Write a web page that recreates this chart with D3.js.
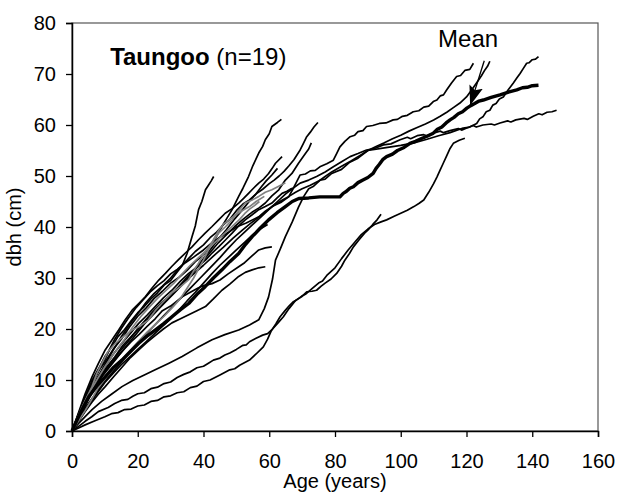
<!DOCTYPE html>
<html lang="en">
<head>
  <meta charset="UTF-8">
  <title>Taungoo dbh growth</title>
  <style>
    body { margin: 0; background: #fff; }
    text { font-family: "Liberation Sans", Arial, sans-serif; fill: #000; }
  </style>
</head>
<body>
  <svg id="svg" width="617" height="493"></svg>

  <script src="https://d3js.org/d3.v7.min.js"></script>
  <script>
    // axis ticks
    const xTicks = [0, 20, 40, 60, 80, 100, 120, 140, 160]
    const yTicks = [0, 10, 20, 30, 40, 50, 60, 70, 80]

    // individual trees: [age (years), dbh (cm)]
    const tree01 = [[0,0],[2,3.2],[4,6.5],[6,9.8],[8,12.1],[10,14.6],[12,16.4],[14,18.5],[16,19.9],[18,21.6],[20,23.2],[22,24.4],[24,25.9],[26,27.1],[28,28.6],[30,29.5],[32,31.2],[33.5,32.4],[35,34.8],[36.5,38.1],[37.5,40.2],[38.5,43.4],[39.5,45],[40.6,47.3],[41.5,48.2],[42.3,49],[43.1,49.9]]
    const tree02 = [[0,0],[2,3.4],[4,6.8],[6,9.5],[8,11.8],[10,13.5],[12.5,16],[15,18],[17.5,20.4],[20,22.5],[22.5,24.1],[25,26],[27.5,27.4],[30,29],[32.5,30.1],[35,31.5],[37.5,33.2],[40,34.5],[42.6,36.8],[44,38.2],[45.6,40.1],[47,41.6],[48.7,43.4],[50.7,46],[52,47.6],[53.7,49.9],[55,52],[56.8,54.5],[58,55.8],[58.8,57.1],[60,58.3],[60.8,59.7],[62.5,60.5],[63.7,61.1]]
    const tree03 = [[0,0],[2.5,3.6],[5,7],[7.5,10.2],[10,13],[12.5,15.8],[15,18.5],[17.5,20.9],[20,23],[22.5,25.2],[25,27],[27.5,28.4],[30,30],[32.5,31.9],[35,33.5],[37.5,35.2],[40,36.5],[42,37.9],[44,39],[46,40.4],[48,41.5],[50,43.2],[52,44.5],[54,45.3],[56,46.5],[58,47.4],[60,48.5],[61.5,49.2],[63,50],[64.5,50.9],[66,52],[67.5,53.2],[69.4,55.1],[70.4,56.4],[71.4,57.7],[72.5,58.6],[73.6,59.6],[74.8,60.5]]
    const tree04 = [[0,0],[2,2.8],[4,5.5],[6,7.9],[8,10],[10.5,12.5],[13,14.5],[15.5,16.8],[18,18.5],[21,20.6],[24,22.5],[27,24.6],[30,26.5],[33,28.4],[36,30.5],[39,32.8],[42,35],[44.5,36.9],[47,38.5],[49.5,40.1],[52,41.5],[55,43],[57,43.8],[58.8,44.7],[60.8,46.1],[62.9,47.3],[64.9,49.2],[66.9,50.5],[68.9,52.5],[71,54.4],[72,55.3],[72.8,56.5]]
    const tree05 = [[0,0],[3,4.6],[6.1,8.7],[7.5,11.2],[9.1,13.3],[11,15.6],[13.2,17.2],[15.8,18.6],[18.3,19.8],[20.8,20.6],[23.3,21.8],[25.3,23.6],[27.4,25.1],[30.4,27.1],[33,28.3],[35.5,29.7],[37,31.4],[38.5,32.9],[40,34.6],[41.6,36.1],[43.2,37.5],[44.6,38.8],[46.6,40],[48.7,41.4],[50.7,43.2],[52.7,44.7],[54.8,45.3],[56.8,46],[58.8,46.8],[60.8,47.3],[62.9,48],[64.9,48.7]]
    const tree06 = [[0,0],[2,3.6],[4,7.3],[6.1,10.6],[8,13.2],[10.1,15.9],[12.2,17.9],[14.2,19.8],[16.2,21.8],[18.3,23.7],[20.3,25],[22.3,26.3],[24.3,28],[26.4,29.6],[28.4,30.9],[30.4,32.3],[32.4,33.6],[34.5,34.9],[36.5,36.1],[38.5,37.5],[40.5,38.8],[42.6,40.1],[44.6,41.4],[46.6,42.7],[48.7,43.6],[50.7,44.7],[52.2,45.6],[53.7,46.6],[55.2,47.6],[56.8,48.6],[58.3,49.4],[59.8,50.5],[60.9,51.5],[61.9,52.5],[63.9,53.8]]
    const tree07 = [[0,0],[2.5,3.6],[5.1,6.8],[7.5,9.9],[10.1,12.7],[12.6,15.1],[15.2,17.2],[17.8,19.2],[20.3,21.1],[22.8,22.7],[25.3,24.4],[27.8,26.1],[30.4,27.6],[33,29.4],[35.5,30.9],[38,32.1],[40.6,33.5],[42.6,34.9],[44.6,36.1],[46.6,37.4],[48.7,38.8],[50.7,40.2],[52.7,41.4],[54.8,42.4],[56.8,43.4],[58.8,44],[60.8,44.7],[62.4,45.7],[63.9,46.6],[65.4,47],[66.9,47.6]]
    const tree08 = [[0,0],[2,2.6],[4,5],[6,7.4],[8.1,9.8],[10.5,12],[13,14],[15.5,15.8],[18,17.5],[20.5,19],[23,20.6],[25.3,22],[27.5,23.6],[30,24.5],[33.5,26.3],[36,27.2],[38.5,28.1],[40,28.5],[42.6,28.9],[45,29.6],[47.5,30.8],[50.7,32.2],[52.5,33],[54.5,34.2],[56.8,35.5],[58.8,35.9],[60.8,36.1]]
    const tree09 = [[0,0],[2,1.9],[4,3.8],[6,5.6],[8,7.2],[10.1,8.7],[12.6,10.6],[15.2,12.5],[17.8,14.4],[20.3,15.9],[22.8,17.4],[25.3,18.7],[27.8,20],[30.4,21.2],[33,22],[35.5,22.8],[38,23.6],[40.6,24.4],[43,25.9],[45.6,27.6],[48,28.8],[50.7,30.3],[52.7,31.1],[54.8,31.6],[56.8,32],[58.8,32.2]]
    const tree10 = [[0,0],[2,0.9],[4,1.9],[6,2.8],[8,3.8],[11,4.6],[13,5.4],[15,6],[17,6.2],[18.5,6.8],[20,7.3],[22,7.5],[24,8.3],[26,8.6],[28,9.3],[30,9.6],[32,10.5],[34,11.1],[36,11.6],[38,12.4],[40,12.7],[41.5,13.3],[43,13.9],[45,14.3],[46.5,14.9],[48,15.3],[50,16],[52,16.8],[53,16.9],[54,17.5],[56,18.2],[58,18.8],[59.5,19.1],[61,20],[62.8,21.3],[64.3,22.4],[66,24],[68,25.6],[69.8,26.3],[71.4,27.3],[73,27.4],[74.4,27.6],[75.8,28.4],[77,29],[78.8,29.8],[80.5,30.9],[82,32.3],[83,33.5],[84.4,34.8],[85.6,36.1],[87.2,37.4],[89,38.8],[90.3,39.6],[91.5,40.5],[92.8,41.4],[94,42.5]]
    const tree11 = [[0,0],[2,0.6],[4,1.2],[7,2],[10,2.8],[12,3.4],[14,3.6],[16,4.2],[18,4.3],[20,4.9],[22,5.1],[24,5.8],[26,6],[28,6.7],[30,6.9],[32,7.5],[34,7.7],[36,8.5],[38,8.8],[40,9.7],[42,10],[45,11],[48,12],[49.5,12.2],[51,12.9],[54,13.9],[56,15.1],[58.2,16.5],[59.5,18],[60.5,19.5],[62,21],[63.3,22.4],[64.8,23.6],[66,24.5],[67.2,25.3],[68.3,25.7],[69.8,26.4],[71,26.8],[73,27.9],[75,29],[76.2,29.4],[77.5,30.5],[80,32],[82,33.8],[84,35.5],[86,37],[88,38.5],[90,39.6],[92,40.5],[94,41],[95.7,41.4],[98,42.1],[100,42.7],[102,43.3],[104,44],[105.5,44.6],[107,45.3],[108.5,46.8],[110,48.5],[111,49.8],[112,51.2],[113,52.6],[114,54],[115,55.4],[116,56.4],[117.8,57],[119.5,57.4]]
    const tree12 = [[0,0],[1.5,2.4],[3,4.5],[4.5,6.9],[6,9],[8,11.6],[10,14],[11.5,16.1],[13,18],[15,20.1],[17,22],[19.5,24.2],[22,26],[24,27.4],[26,28.5],[28,29.5],[30,30.8],[32,31.7],[34.5,33],[37,34.1],[40,35.5],[42.5,36.9],[45,38],[47.5,38.9],[50,40],[53,40.8],[56.8,42],[58.8,43.1],[60.8,44],[63.5,44.8],[65.9,45.9],[67.5,47.8],[69.4,50.2],[71,50.4],[72.5,51],[74,51.1],[75.4,51.8],[77.5,52.4],[79.5,53.1],[80.5,54.4],[81.5,55.7],[83,56.8],[84.6,57.7],[86,58],[87,58.7],[88.5,58.9],[89.6,59.7],[91.5,59.9],[93.5,60.3],[95.5,60.4],[97.7,61],[99,61.1],[100.5,61.7],[102,61.9],[103.8,62.6],[105.5,62.8],[107,63.5],[108.5,63.7],[109.9,64.6],[111,64.9],[112,65.7],[113,65.9],[114,66.9],[115.5,68.3],[117,69.5],[118.2,69.7],[119.5,70.7],[121,70.9],[122.1,72.1]]
    const tree13 = [[0,0],[2,1.5],[4,2.8],[6.1,4.2],[9,5.8],[12,7.2],[15.2,8.7],[18.5,9.9],[22,11],[25.3,12],[29.5,13.3],[33.5,14.6],[38,16.3],[42.6,17.9],[46.5,18.9],[50.7,19.8],[54,20.8],[56.8,21.8],[58.5,24],[59.8,26.3],[61,29.8],[61.9,33.5],[63.5,35.9],[64.9,38.1],[67,41],[68.9,43.9],[70.5,46],[72,47.5],[73.5,48],[75.5,49.2],[77,49.4],[79,50.5],[82,51.3],[84.5,52.7],[87,53.5],[90,55],[95,55.5],[100,56],[104,56.5],[108,57.2],[111.5,57.9],[115,58.5],[119,59.4],[121,59.6],[123.1,60.3],[124,61.2],[125,61.6],[126,62.6],[127.1,62.9],[128,63.9],[129,64.2],[130,65.1],[131.2,65.5],[132.7,66.9],[134.2,68.2],[135.3,69.2],[136.3,70.1],[137.3,71.1],[138.3,72.1],[139,72.2],[140,72.8],[141,72.9],[141.9,73.4]]
    const tree14 = [[0,0],[2,2.3],[4,4.5],[6.5,6.7],[9,9],[12,11.3],[15,13.5],[18,15.8],[21,18],[24,20],[27,22],[30,24],[33,26],[36,28],[39,30],[42,32],[45,34],[47.5,35.8],[50,37.5],[52.5,39],[55,40.5],[57.5,42],[60,43.5],[62.5,45],[65,46.5],[67.2,47.6],[69.4,48.6],[72,49.2],[74.4,49.9],[77,50.8],[79.5,51.8],[82,52.8],[84.6,53.8],[87,54.4],[89.6,55.1],[92,55.4],[94.7,56.1],[97,56.3],[99.8,57.1],[102,57.6],[103,57.3],[105,57.9],[107,58.1],[108,57.9],[109.9,58.4],[112,58.8],[113,58.5],[115,58.9],[117.5,59.3],[118.5,59],[120.1,59.4],[122,59.9],[123,59.6],[125,60],[127.5,60.2],[128.5,60],[130.2,60.4],[132.5,60.8],[133.5,60.6],[135,61],[137.5,61.3],[138.5,61.1],[140.3,61.7],[142,62.2],[143,62],[144.5,62.5],[146,62.6],[147.4,62.9]]
    const tree15 = [[0,0],[1.5,2.1],[3,4],[5,6.4],[7,8.5],[9.5,11],[12,13],[14.5,15],[17,17],[19.5,19],[22,21],[25,23],[28,25],[31,27],[34,29],[37,30.8],[40,32.5],[43,34.3],[46,36],[49,37.8],[52,39.5],[54.5,40.8],[57,42],[59.5,43.3],[62,44.5],[64,45.3],[66,46],[68,46.8],[70,47.5],[72.5,48.2],[75,49],[77,49.9],[79,50.8],[82,51.9],[85,53],[87.5,54],[90,55],[92.5,55.8],[95,56.5],[97.5,57.3],[100,58],[102.5,58.8],[105,59.5],[107.5,60.2],[110,61],[112,61.7],[114,62.5],[116,63.4],[118,64.3],[120,65.5],[121.5,66.8],[123,68.2],[124.5,69.6],[125.6,70.8],[126.4,71.5],[127.1,72.5]]
    const tree16 = [[0,0],[1.5,2.2],[3,4.2],[5,6.9],[7,8.8],[9.5,11.3],[12,13.5],[14.5,15.6],[17,17.5],[19.5,19.6],[22,21.5],[24.5,23.3],[27,25],[29.5,26.4],[32,28],[34.5,29.8],[37,31.5],[39.5,33.4],[42,35.5],[44.5,37.6],[47,39.5],[49.5,41.6],[52,43.5],[54,45.1],[56,46.5],[57.5,47.8],[59,49],[60.8,50.2],[62.5,51.5]]
    const tree17 = [[0,0],[2,2],[4,4],[6,6.2],[8,8.5],[10.5,10.6],[13,12.5],[15.5,14.3],[18,16],[20.5,17.8],[23,19.5],[25.5,21],[28,22.5],[30.5,24.2],[33,26],[35,28],[37,30],[38.5,31.8],[40,33.5],[41.5,35.5],[43,37.5],[44.5,39.2],[46,40.5],[48,41.5],[50,42.5],[52,43.3],[54,44],[56,45],[58.5,46]]
    const tree18 = [[0,0],[2,3],[4,5.8],[6,8.3],[8,10.5],[10,12.6],[12,14.5],[14,16.3],[16,18],[18.5,20.4],[21,22.5],[23.5,24.3],[26,26],[28.5,27.5],[31,29],[33.5,30.8],[36,32.5],[38.5,34],[41,35.5],[43.5,37],[46,38.5],[48.5,40],[51,41.5],[52.5,42.6],[54,43.5],[55.5,44.2],[57,45]]
    const tree19 = [[0,0],[2.5,2.6],[5,5],[7.5,7.3],[10,9.5],[12.5,11.3],[15,13],[17.5,14.5],[20,16],[22.5,17.5],[25,19],[27.5,20.5],[30,22],[32.5,23.7],[35,25.5],[37.5,27.2],[40,29],[42.5,30.8],[45,32.5],[47.5,34],[50,35.5],[52.5,37],[55,38.5],[57,39.5],[59.5,40.5]]

    // mean curve of the 19 trees
    const meanCurve = [[0,0],[2.5,3.5],[5.1,6.7],[7.5,8.8],[10.1,10.6],[12.5,12.4],[15.2,13.9],[17.8,15.6],[20.3,17.2],[22.8,18.6],[25.3,19.8],[27.8,21],[30.4,22.4],[33,23.8],[35.5,25],[38,26.8],[40.5,28.3],[43,30],[45.6,31.6],[48,33.2],[50.7,34.8],[52.8,36.6],[54.8,38.1],[57.3,39.8],[59.8,41.4],[62.4,42.8],[64.9,44],[67,45],[69,45.6],[72,45.7],[75.4,45.9],[78.5,45.9],[81.5,45.9],[82.5,46.6],[83.5,47],[84.5,47.6],[85.6,47.9],[87,48.7],[88.5,49.2],[90,49.7],[91.6,50.5],[92.5,51.5],[93.5,52.3],[94.5,53.2],[95.7,53.8],[97.5,54.3],[99,55],[101,55.6],[102.8,56.4],[104.5,56.8],[106.5,57.4],[108,57.8],[109.9,58.4],[111,59.1],[112.5,59.6],[113.8,60.4],[115,61],[116.2,61.5],[117.5,62.2],[118.8,62.6],[120.1,63.3],[121.3,63.8],[122.5,64.2],[123.8,64.7],[125.1,64.9],[127.5,65.4],[130.2,65.9],[133,66.5],[135.3,66.9],[137,67.3],[138.5,67.4],[140,67.7],[141.9,67.8]]

    const blackTrees = [tree01, tree02, tree03, tree04, tree06, tree07, tree08, tree09, tree10,
      tree11, tree12, tree13, tree14, tree15, tree16, tree19]
    const greyTrees = [tree05, tree17, tree18]

    const margin = { top: 23, right: 19, bottom: 62, left: 72 }
    const width = 617 - margin.left - margin.right
    const height = 493 - margin.top - margin.bottom

    const xScale = d3.scaleLinear().domain([0, 160]).range([0, width])
    const yScale = d3.scaleLinear().domain([0, 80]).range([height, 0])

    const svg = d3.select('#svg')
    const g = svg.append('g').attr('transform', `translate(${margin.left},${margin.top})`)

    // plot frame (top and right edges)
    g.append('rect')
      .attr('width', width)
      .attr('height', height)
      .attr('fill', 'none')
      .attr('stroke', '#555')
      .attr('stroke-width', 1.2)

    const line = d3.line()
      .x(d => xScale(d[0]))
      .y(d => yScale(d[1]))

    g.selectAll('path.tree')
      .data(blackTrees)
      .enter()
      .append('path')
      .attr('class', 'tree')
      .attr('d', line)
      .attr('fill', 'none')
      .attr('stroke', '#000')
      .attr('stroke-width', 1.7)
      .attr('stroke-linejoin', 'round')

    g.selectAll('path.grey')
      .data(greyTrees)
      .enter()
      .append('path')
      .attr('class', 'grey')
      .attr('d', line)
      .attr('fill', 'none')
      .attr('stroke', '#808080')
      .attr('stroke-width', 1.7)
      .attr('stroke-linejoin', 'round')

    g.append('path')
      .datum(meanCurve)
      .attr('d', line)
      .attr('fill', 'none')
      .attr('stroke', '#000')
      .attr('stroke-width', 3.4)
      .attr('stroke-linejoin', 'round')

    // axes
    const xAxis = g.append('g')
      .attr('transform', `translate(0,${height})`)
      .call(d3.axisBottom(xScale).tickValues(xTicks).tickSizeOuter(0).tickSize(6).tickPadding(17))
    const yAxis = g.append('g')
      .call(d3.axisLeft(yScale).tickValues(yTicks).tickSizeOuter(0).tickSize(6).tickPadding(10))

    ;[xAxis, yAxis].forEach(a => {
      a.select('.domain').attr('stroke', '#000').attr('stroke-width', 1.5)
      a.selectAll('.tick line').attr('stroke', '#000').attr('stroke-width', 1.3)
      a.selectAll('.tick text')
        .style('font-family', '"Liberation Sans", Arial, sans-serif')
        .style('font-size', '20px')
        .attr('fill', '#000')
    })

    // axis titles
    svg.append('text')
      .attr('x', margin.left + width / 2)
      .attr('y', 488)
      .attr('text-anchor', 'middle')
      .style('font-size', '20px')
      .text('Age (years)')

    svg.append('text')
      .attr('transform', `translate(21,${margin.top + height / 2}) rotate(-90)`)
      .attr('text-anchor', 'middle')
      .style('font-size', '20px')
      .text('dbh (cm)')

    // title
    const title = g.append('text')
      .attr('x', xScale(11.6))
      .attr('y', yScale(71.8))
      .style('font-size', '24px')
    title.append('tspan').style('font-weight', 'bold').text('Taungoo')
    title.append('tspan').text(' (n=19)')

    // mean label with arrow
    svg.append('defs').append('marker')
      .attr('id', 'head')
      .attr('viewBox', '0 0 10 10')
      .attr('preserveAspectRatio', 'none')
      .attr('refX', 10)
      .attr('refY', 5)
      .attr('markerWidth', 20)
      .attr('markerHeight', 14)
      .attr('markerUnits', 'userSpaceOnUse')
      .attr('orient', 'auto')
      .append('path')
      .attr('d', 'M0,0 L10,5 L0,10 L2,5 Z')
      .attr('fill', '#000')

    g.append('text')
      .attr('x', xScale(120.5))
      .attr('y', yScale(75.3))
      .attr('text-anchor', 'middle')
      .style('font-size', '24px')
      .text('Mean')

    g.append('line')
      .attr('x1', xScale(125.4))
      .attr('y1', yScale(72.6))
      .attr('x2', xScale(121.1))
      .attr('y2', yScale(63.8))
      .attr('stroke', '#000')
      .attr('stroke-width', 1.3)
      .attr('marker-end', 'url(#head)')
  </script>
</body>
</html>
